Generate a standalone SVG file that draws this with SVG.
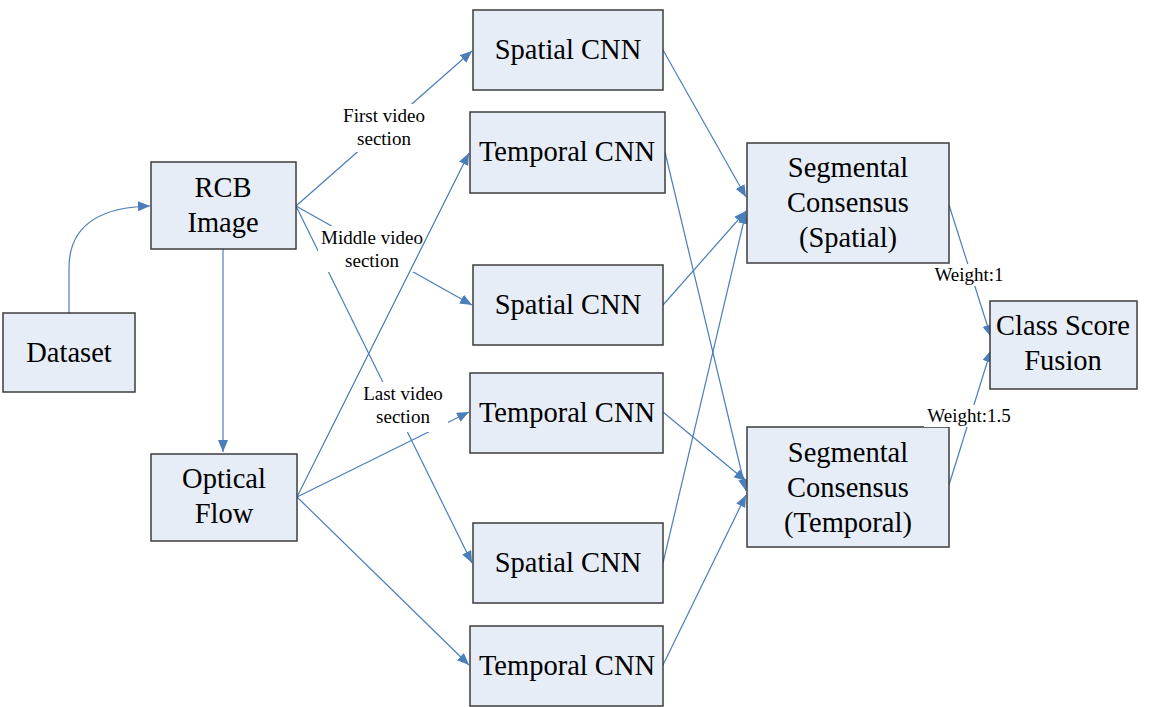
<svg xmlns="http://www.w3.org/2000/svg" width="1157" height="707" viewBox="0 0 1157 707">
<defs>
<marker id="ah" markerUnits="userSpaceOnUse" markerWidth="13" markerHeight="11" refX="12" refY="5" orient="auto">
<path d="M0,0 L12,5 L0,10 z" fill="#4a7ebb"/>
</marker>
<style>
.box{fill:#e7edf7;stroke:#3c3c3c;stroke-width:1.5}
.t{font-family:"Liberation Serif","Times New Roman",serif;font-size:28.5px;fill:#000;text-anchor:middle}
.lb{font-family:"Liberation Serif","Times New Roman",serif;font-size:19px;fill:#000;text-anchor:middle}
.c{fill:none;stroke:#4a7ebb;stroke-width:1.2;marker-end:url(#ah)}
.bg{fill:#fff}
</style>
</defs>
<rect width="1157" height="707" fill="#fff"/>
<g id="connectors">
<path class="c" d="M69,313 L69,268 Q69,208 150,206"/>
<path class="c" d="M223,249 L223,452"/>
<path class="c" d="M296,206 L472,51"/>
<path class="c" d="M296,206 L472,305"/>
<path class="c" d="M296,206 L472,563"/>
<path class="c" d="M297,497 L469,412"/>
<path class="c" d="M297,497 L469,665"/>
<path class="c" d="M663,50 L746,197"/>
<path class="c" d="M663,305 L746,211"/>
<path class="c" d="M663,563 L746,212"/>
<path class="c" d="M665,152 L746,491"/>
<path class="c" d="M663,412 L746,481"/>
<path class="c" d="M663,665 L746,495"/>
<path class="c" d="M949,205 L991,337"/>
<path class="c" d="M949,485 L991,350"/>
</g>
<g id="labels">
<rect class="bg" x="340" y="104" width="90" height="48"/>
<text class="lb" x="384" y="122">First video</text>
<text class="lb" x="384" y="145">section</text>
<rect class="bg" x="318" y="226" width="104" height="46"/>
<text class="lb" x="372" y="244">Middle video</text>
<text class="lb" x="372" y="267">section</text>
<rect class="bg" x="360" y="382" width="88" height="50"/>
<text class="lb" x="403" y="400">Last video</text>
<text class="lb" x="403" y="423">section</text>
</g>
<g id="connectors-over-labels">
<path class="c" d="M297,497 L469,153"/>
</g>
<g id="dataset"><rect class="box" x="3" y="313" width="132" height="79"/><text class="t" x="69" y="362">Dataset</text></g>
<g id="rcb"><rect class="box" x="151" y="162" width="145" height="87"/><text class="t" x="223" y="197">RCB</text><text class="t" x="223" y="232">Image</text></g>
<g id="optical"><rect class="box" x="151" y="454" width="146" height="87"/><text class="t" x="224" y="488">Optical</text><text class="t" x="224" y="523">Flow</text></g>
<g id="spatial1"><rect class="box" x="473" y="10" width="190" height="80"/><text class="t" x="568" y="59">Spatial CNN</text></g>
<g id="temporal1"><rect class="box" x="470" y="112" width="195" height="81"/><text class="t" x="567" y="161">Temporal CNN</text></g>
<g id="spatial2"><rect class="box" x="473" y="265" width="190" height="80"/><text class="t" x="568" y="314">Spatial CNN</text></g>
<g id="temporal2"><rect class="box" x="470" y="373" width="193" height="80"/><text class="t" x="567" y="422">Temporal CNN</text></g>
<g id="spatial3"><rect class="box" x="473" y="523" width="190" height="80"/><text class="t" x="568" y="572">Spatial CNN</text></g>
<g id="temporal3"><rect class="box" x="470" y="626" width="193" height="80"/><text class="t" x="567" y="675">Temporal CNN</text></g>
<g id="segspatial"><rect class="box" x="747" y="143" width="202" height="120"/><text class="t" x="848" y="177">Segmental</text><text class="t" x="848" y="212">Consensus</text><text class="t" x="848" y="247">(Spatial)</text></g>
<g id="segtemporal"><rect class="box" x="747" y="427" width="202" height="120"/><text class="t" x="848" y="462">Segmental</text><text class="t" x="848" y="497">Consensus</text><text class="t" x="848" y="532">(Temporal)</text></g>
<g id="fusion"><rect class="box" x="990" y="301" width="147" height="88"/><text class="t" x="1063" y="335">Class Score</text><text class="t" x="1063" y="370">Fusion</text></g>
<g id="weights">
<rect class="bg" x="932" y="264" width="74" height="22"/>
<text class="lb" x="969" y="281">Weight:1</text>
<rect class="bg" x="924" y="405" width="90" height="22"/>
<text class="lb" x="969" y="422">Weight:1.5</text>
</g>
</svg>
